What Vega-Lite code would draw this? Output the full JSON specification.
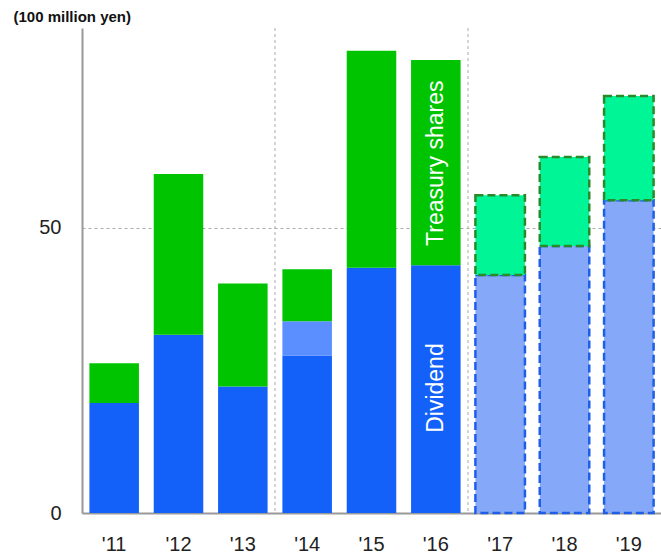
{
  "$schema": "https://vega.github.io/schema/vega-lite/v6.json",
  "width": 579,
  "height": 485,
  "autosize": {"type": "none"},
  "padding": {"left": 82, "top": 28, "right": 0, "bottom": 42},
  "background": "white",
  "config": {"view": {"stroke": null}, "font": "Liberation Sans"},
  "datasets": {
    "bars": [
      {"year": "'11", "segment": "Dividend", "type": "actual", "start": 0, "end": 19.26},
      {"year": "'11", "segment": "Treasury shares", "type": "actual", "start": 19.26, "end": 26.25},
      {"year": "'12", "segment": "Dividend", "type": "actual", "start": 0, "end": 31.26},
      {"year": "'12", "segment": "Treasury shares", "type": "actual", "start": 31.26, "end": 59.43},
      {"year": "'13", "segment": "Dividend", "type": "actual", "start": 0, "end": 22.18},
      {"year": "'13", "segment": "Treasury shares", "type": "actual", "start": 22.18, "end": 40.22},
      {"year": "'14", "segment": "Dividend", "type": "actual", "start": 0, "end": 27.6},
      {"year": "'14", "segment": "Dividend (additional)", "type": "actual", "start": 27.6, "end": 33.6},
      {"year": "'14", "segment": "Treasury shares", "type": "actual", "start": 33.6, "end": 42.7},
      {"year": "'15", "segment": "Dividend", "type": "actual", "start": 0, "end": 43.0},
      {"year": "'15", "segment": "Treasury shares", "type": "actual", "start": 43.0, "end": 81.0},
      {"year": "'16", "segment": "Dividend", "type": "actual", "start": 0, "end": 43.4},
      {"year": "'16", "segment": "Treasury shares", "type": "actual", "start": 43.4, "end": 79.4},
      {"year": "'17", "segment": "Dividend (plan)", "type": "plan", "start": 0, "end": 41.7},
      {"year": "'17", "segment": "Treasury shares (plan)", "type": "plan", "start": 41.7, "end": 55.7},
      {"year": "'18", "segment": "Dividend (plan)", "type": "plan", "start": 0, "end": 46.8},
      {"year": "'18", "segment": "Treasury shares (plan)", "type": "plan", "start": 46.8, "end": 62.4},
      {"year": "'19", "segment": "Dividend (plan)", "type": "plan", "start": 0, "end": 54.8},
      {"year": "'19", "segment": "Treasury shares (plan)", "type": "plan", "start": 54.8, "end": 73.1}
    ],
    "labels": [
      {"year": "'16", "label": "Treasury shares", "pos": 61.3},
      {"year": "'16", "label": "Dividend", "pos": 21.9}
    ],
    "dividers": [
      {"year": "'14"},
      {"year": "'17"}
    ]
  },
  "encoding": {
    "x": {
      "field": "year",
      "type": "nominal",
      "sort": null,
      "scale": {"domain": ["'11", "'12", "'13", "'14", "'15", "'16", "'17", "'18", "'19"], "paddingInner": 0.23, "paddingOuter": 0.115},
      "axis": {
        "title": null,
        "labelAngle": 0,
        "labelFontSize": 20,
        "labelColor": "#222222",
        "labelPadding": 21,
        "ticks": false,
        "domainColor": "#999999",
        "domainWidth": 2,
        "grid": false
      }
    }
  },
  "layer": [
    {
      "data": {"name": "dividers"},
      "mark": {"type": "rule", "color": "#aaaaaa", "strokeDash": [3, 3], "strokeWidth": 1, "xOffset": -7.4},
      "encoding": {
        "x": {"field": "year", "type": "nominal", "bandPosition": 0}
      }
    },
    {
      "data": {"name": "bars"},
      "transform": [{"filter": "datum.type == 'actual'"}],
      "mark": {"type": "bar"},
      "encoding": {
        "y": {
          "field": "start",
          "type": "quantitative",
          "scale": {"domain": [0, 85], "nice": false},
          "axis": {
            "values": [0, 50],
            "title": "(100 million yen)",
            "titleAngle": 0,
            "titleAlign": "left",
            "titleBaseline": "middle",
            "titleX": -69,
            "titleY": -12,
            "titleFontSize": 15,
            "titleFontWeight": "bold",
            "titleColor": "#111111",
            "labelFontSize": 20,
            "labelColor": "#222222",
            "labelPadding": 21,
            "ticks": false,
            "domainColor": "#999999",
            "domainWidth": 2,
            "grid": true,
            "gridColor": "#aaaaaa",
            "gridDash": [3, 3],
            "gridWidth": 1
          }
        },
        "y2": {"field": "end"},
        "color": {
          "field": "segment",
          "type": "nominal",
          "scale": {
            "domain": ["Dividend", "Dividend (additional)", "Treasury shares", "Dividend (plan)", "Treasury shares (plan)"],
            "range": ["#1461FA", "#5B8EFF", "#00C400", "#86A8F8", "#00F596"]
          },
          "legend": null
        }
      }
    },
    {
      "data": {"name": "bars"},
      "transform": [{"filter": "datum.type == 'plan'"}],
      "mark": {"type": "bar", "strokeDash": [8, 4], "strokeWidth": 2.5},
      "encoding": {
        "y": {"field": "start", "type": "quantitative"},
        "y2": {"field": "end"},
        "color": {"field": "segment", "type": "nominal", "legend": null},
        "stroke": {
          "field": "segment",
          "type": "nominal",
          "scale": {"domain": ["Dividend (plan)", "Treasury shares (plan)"], "range": ["#1F5FE8", "#2A8A2A"]},
          "legend": null
        }
      }
    },
    {
      "data": {"name": "labels"},
      "mark": {"type": "text", "angle": 270, "align": "center", "baseline": "middle", "fontSize": 23, "color": "white", "font": "Liberation Sans"},
      "encoding": {
        "y": {"field": "pos", "type": "quantitative"},
        "text": {"field": "label", "type": "nominal"}
      }
    }
  ]
}
